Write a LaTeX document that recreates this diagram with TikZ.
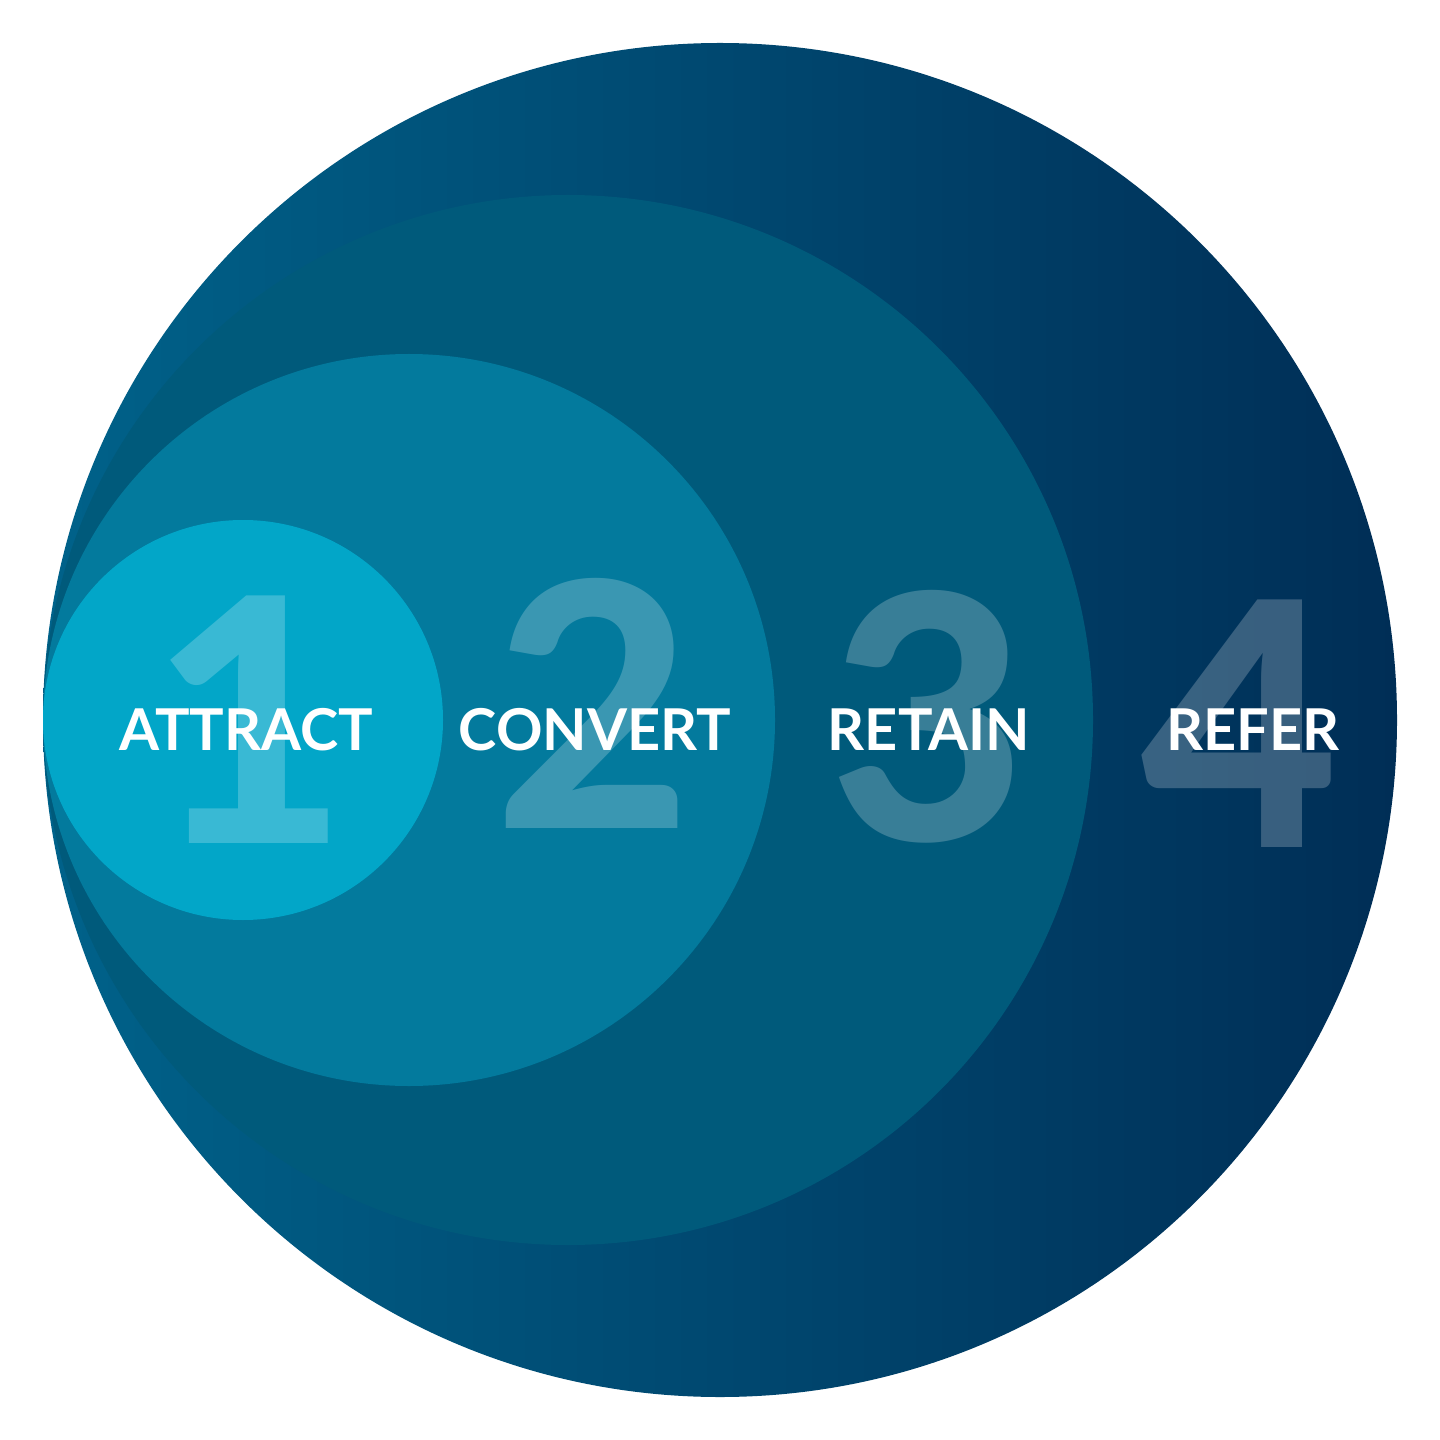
\documentclass[tikz,border=0pt]{standalone}
\usepackage{fontspec}
\setmainfont{Lato}
\newfontfamily\digitfont{Lato Heavy}
\usetikzlibrary{positioning}
\definecolor{stageOne}{HTML}{02A6C8}
\definecolor{stageTwo}{HTML}{037A9D}
\definecolor{stageThree}{HTML}{005A7B}
\definecolor{outerLeft}{HTML}{00628A}
\definecolor{outerRight}{HTML}{002E56}

\begin{document}
\begin{tikzpicture}[
  x=0.01cm,y=-0.01cm,
  stage/.style={text=white,font=\bfseries\fontsize{16.4}{16.4}\selectfont,anchor=base,inner sep=0pt},
  bignum/.style={text=white,text opacity=0.22,font=\digitfont\fontsize{97}{97}\selectfont,anchor=base,inner sep=0pt}
]
\useasboundingbox (0,0) rectangle (1440,1440);
\fill[white] (0,0) rectangle (1440,1440);
% nested circles, all touching on the left
\shade[left color=outerLeft,right color=outerRight] (720,720) circle (677);
\fill[stageThree] (568,720) circle (525);
\fill[stageTwo] (409,720) circle (366);
\fill[stageOne] (243,720) circle (200);
% large step numbers
\node[bignum] (num1) at (249,843) {1};
\node[bignum] (num2) at (593,828) {2};
\node[bignum] (num3) at (928,840) {3};
\node[bignum] (num4) at (1240,847) {4};
% stage names
\node[stage] (attract) at (246,750) {ATTRACT};
\node[stage] (convert) at (595,750) {CONVERT};
\node[stage] (retain) at (929,750) {RETAIN};
\node[stage] (refer) at (1253,750) {REFER};
\end{tikzpicture}
\end{document}
